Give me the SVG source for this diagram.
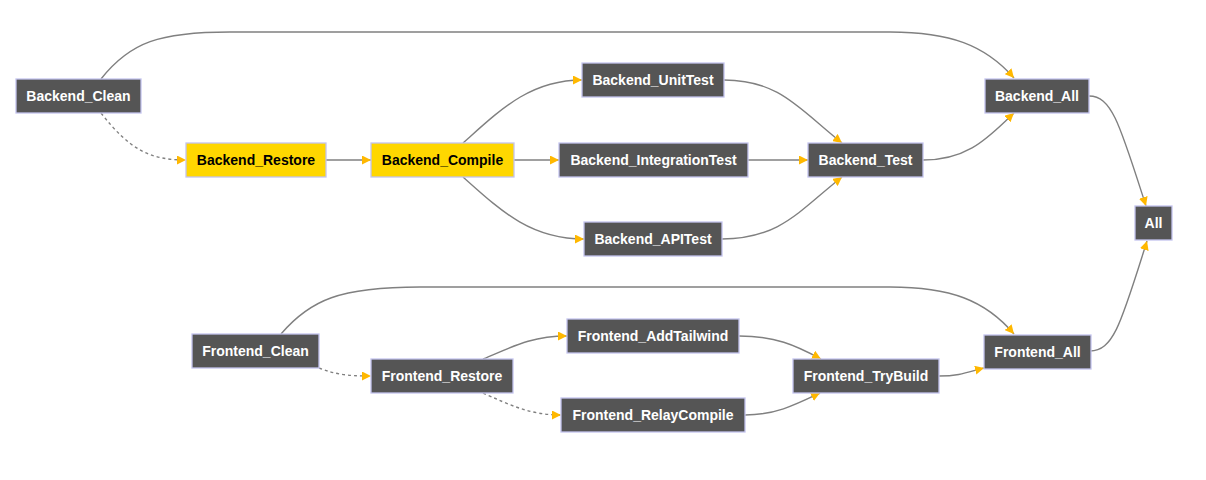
<svg xmlns="http://www.w3.org/2000/svg" width="1206" height="480" viewBox="0 0 1206 480">
<style>
.n rect{fill:#555555;stroke:#c4c4ee;stroke-width:1.3}
.n.y rect{fill:#ffd700}
.n text{font-family:"Liberation Sans",Arial,sans-serif;font-weight:bold;font-size:14px;fill:#ffffff;text-anchor:middle}
.n.y text{fill:#000000}
.e path{fill:none;stroke:#808080;stroke-width:1.4;marker-end:url(#ah)}
.e path.d{stroke-dasharray:3,3}
</style>
<defs>
<marker id="ah" markerUnits="userSpaceOnUse" markerWidth="9" markerHeight="9" viewBox="0 0 10 10" refX="10" refY="5" orient="auto">
<path d="M0,0 L10,5 L0,10 z" fill="#ffb800"/>
</marker>
</defs>
<rect width="1206" height="480" fill="#ffffff"/>
<g class="e" id="connectors">
<path d="M101,79 C130,42 160,32 230,32 L890,32 C950,32 985,45 1014,78"/>
<path class="d" d="M101,113 C130,150 150,160 186,160"/>
<path d="M326,160 L371,160"/>
<path d="M463,143 C500,110 530,80 582,80"/>
<path d="M514,160 L559,160"/>
<path d="M463,177 C500,210 530,239 584,239"/>
<path d="M724,80 C780,80 800,110 842,143"/>
<path d="M748,160 L808,160"/>
<path d="M722,239 C780,239 800,210 842,177"/>
<path d="M923,160 C970,160 990,135 1014,113"/>
<path d="M1089,96 C1112,96 1120,125 1146,206"/>
<path d="M1090,351 C1114,351 1122,320 1147,241"/>
<path d="M281,334 C310,300 340,287 420,287 L890,287 C950,287 985,300 1014,334"/>
<path class="d" d="M319,368 C335,374 345,376 371,376"/>
<path d="M483,359 C510,348 530,336 567,336"/>
<path class="d" d="M483,393 C510,405 530,415 561,415"/>
<path d="M739,336 C775,336 795,345 821,359"/>
<path d="M745,415 C775,415 795,405 820,393"/>
<path d="M939,376 C960,376 968,372 984,368"/>
</g>
<g class="n" id="Backend_Clean"><rect x="16" y="79" width="125" height="34"/><text x="78.5" y="101">Backend_Clean</text></g>
<g class="n y" id="Backend_Restore"><rect x="186" y="143" width="140" height="34"/><text x="256" y="165">Backend_Restore</text></g>
<g class="n y" id="Backend_Compile"><rect x="371" y="143" width="143" height="34"/><text x="442.5" y="165">Backend_Compile</text></g>
<g class="n" id="Backend_UnitTest"><rect x="582" y="63" width="142" height="34"/><text x="653" y="85">Backend_UnitTest</text></g>
<g class="n" id="Backend_IntegrationTest"><rect x="559" y="143" width="189" height="34"/><text x="653.5" y="165">Backend_IntegrationTest</text></g>
<g class="n" id="Backend_APITest"><rect x="584" y="222" width="138" height="34"/><text x="653" y="244">Backend_APITest</text></g>
<g class="n" id="Backend_Test"><rect x="808" y="143" width="115" height="34"/><text x="865.5" y="165">Backend_Test</text></g>
<g class="n" id="Backend_All"><rect x="985" y="79" width="104" height="34"/><text x="1037" y="101">Backend_All</text></g>
<g class="n" id="All"><rect x="1135" y="206" width="37" height="34"/><text x="1153.5" y="228">All</text></g>
<g class="n" id="Frontend_Clean"><rect x="192" y="334" width="127" height="34"/><text x="255.5" y="356">Frontend_Clean</text></g>
<g class="n" id="Frontend_Restore"><rect x="371" y="359" width="142" height="34"/><text x="442" y="381">Frontend_Restore</text></g>
<g class="n" id="Frontend_AddTailwind"><rect x="567" y="319" width="172" height="34"/><text x="653" y="341">Frontend_AddTailwind</text></g>
<g class="n" id="Frontend_RelayCompile"><rect x="561" y="398" width="184" height="34"/><text x="653" y="420">Frontend_RelayCompile</text></g>
<g class="n" id="Frontend_TryBuild"><rect x="793" y="359" width="146" height="34"/><text x="866" y="381">Frontend_TryBuild</text></g>
<g class="n" id="Frontend_All"><rect x="984" y="335" width="107" height="34"/><text x="1037.5" y="357">Frontend_All</text></g>
</svg>
